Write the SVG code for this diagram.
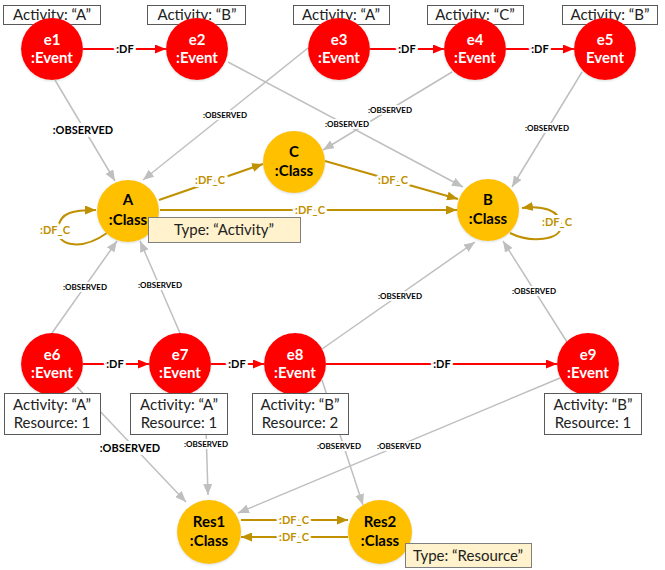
<svg xmlns="http://www.w3.org/2000/svg" width="665" height="570" viewBox="0 0 665 570">
<style>
.ev{fill:#FF0000}
.cl{fill:#FFC000}
.nt{font-family:Lato,"Liberation Sans",sans-serif;font-size:15px;font-weight:bold;text-anchor:middle}
.evt{fill:#FFFFFF}
.clt{fill:#000000}
.box{fill:#FFFFFF;stroke:#595959;stroke-width:1}
.tbox{fill:#FFF2CC;stroke:#7F7F7F;stroke-width:1}
.bt{font-family:Lato,"Liberation Sans",sans-serif;font-size:15px;fill:#222;text-anchor:middle}
.df{stroke:#FF0000;stroke-width:2;fill:none;marker-end:url(#ar)}
.ob{stroke:#BFBFBF;stroke-width:1.5;fill:none;marker-end:url(#ag)}
.dc{stroke:#BF9000;stroke-width:2;fill:none;marker-end:url(#ay)}
.lb{font-family:Lato,"Liberation Sans",sans-serif;font-weight:bold;text-anchor:middle;stroke:#FFFFFF;stroke-width:6;paint-order:stroke;stroke-linejoin:round}
.l11{font-size:11px;fill:#000}
.l8{font-size:8px;fill:#000;stroke-width:4}
.lc{font-size:11px;fill:#BF9000}
</style>
<defs>
<marker id="ar" viewBox="0 0 11 9" refX="11" refY="4.5" markerWidth="11" markerHeight="9" markerUnits="userSpaceOnUse" orient="auto"><path d="M0,0 L11,4.5 L0,9 z" fill="#FF0000"/></marker>
<marker id="ag" viewBox="0 0 11 9" refX="11" refY="4.5" markerWidth="11" markerHeight="9" markerUnits="userSpaceOnUse" orient="auto"><path d="M0,0 L11,4.5 L0,9 z" fill="#BFBFBF"/></marker>
<marker id="ay" viewBox="0 0 11 9" refX="11" refY="4.5" markerWidth="11" markerHeight="9" markerUnits="userSpaceOnUse" orient="auto"><path d="M0,0 L11,4.5 L0,9 z" fill="#BF9000"/></marker>
<filter id="sh" x="-20%" y="-20%" width="140%" height="140%"><feDropShadow dx="0" dy="1" stdDeviation="1.2" flood-color="#8aa" flood-opacity="0.35"/></filter>
</defs>

<g id="connectors">
<!-- DF -->
<path class="df" d="M83,49 L166,49"/>
<path class="df" d="M370,49 L444,49"/>
<path class="df" d="M506,49 L574,49"/>
<path class="df" d="M83,364 L149,364"/>
<path class="df" d="M211,364 L264,364"/>
<path class="df" d="M326,364 L557,364"/>
<!-- OBSERVED -->
<path class="ob" d="M55,80 L115,181"/>
<path class="ob" d="M308,48 L143,180"/>
<path class="ob" d="M228,62 L463,187"/>
<path class="ob" d="M452,72 L323,150"/>
<path class="ob" d="M582,72 L512,187"/>
<path class="ob" d="M52,333 L117,241"/>
<path class="ob" d="M180,333 L140,241"/>
<path class="ob" d="M322,349 L475,242"/>
<path class="ob" d="M567,342 L503,241"/>
<path class="ob" d="M77,387 L186,502"/>
<path class="ob" d="M205,395 L208,495"/>
<path class="ob" d="M322,380 L363,505"/>
<path class="ob" d="M560,378 L238,513"/>
<!-- DF_C -->
<path class="dc" d="M159,200 L263,164"/>
<path class="dc" d="M325,161 L458,199"/>
<path class="dc" d="M160,210 L457,210"/>
<path class="dc" d="M107,233 C80,252 55,245 58,228 C60,212 74,210 96,210"/>
<path class="dc" d="M510,233 C530,243 562,241 561,225 C560,210 542,205 522,208"/>
<path class="dc" d="M241,520 L348,520"/>
<path class="dc" d="M348,537 L241,537"/>
<!-- labels -->
<text class="lb l11" x="125" y="53">:DF</text>
<text class="lb l11" x="407" y="53">:DF</text>
<text class="lb l11" x="540" y="53">:DF</text>
<text class="lb l11" x="115" y="368">:DF</text>
<text class="lb l11" x="237" y="368">:DF</text>
<text class="lb l11" x="442" y="368">:DF</text>
<text class="lb l11" x="83" y="134">:OBSERVED</text>
<text class="lb l8" x="225" y="118">:OBSERVED</text>
<text class="lb l8" x="347" y="127">:OBSERVED</text>
<text class="lb l8" x="390" y="113">:OBSERVED</text>
<text class="lb l8" x="547" y="131">:OBSERVED</text>
<text class="lb l8" x="85" y="290">:OBSERVED</text>
<text class="lb l8" x="160" y="288">:OBSERVED</text>
<text class="lb l8" x="400" y="299">:OBSERVED</text>
<text class="lb l8" x="534" y="294">:OBSERVED</text>
<text class="lb l11" x="130" y="452">:OBSERVED</text>
<text class="lb l8" x="206" y="447">:OBSERVED</text>
<text class="lb l8" x="339" y="449">:OBSERVED</text>
<text class="lb l8" x="399" y="449">:OBSERVED</text>
<text class="lb lc" x="210" y="184">:DF_C</text>
<text class="lb lc" x="393" y="184">:DF_C</text>
<text class="lb lc" x="310" y="214">:DF_C</text>
<text class="lb lc" x="55" y="234">:DF_C</text>
<text class="lb lc" x="557" y="226">:DF_C</text>
<text class="lb lc" x="294" y="524">:DF_C</text>
<text class="lb lc" x="294" y="541">:DF_C</text>
</g>

<g id="e1"><rect class="box" x="3.5" y="5.5" width="97" height="19"/><text class="bt" x="52" y="20">Activity: “A”</text>
<circle class="ev" cx="52" cy="49" r="31" filter="url(#sh)"/><text class="nt evt" x="52" y="45">e1</text><text class="nt evt" x="52" y="63">:Event</text></g>
<g id="e2"><rect class="box" x="147.5" y="5.5" width="98" height="19"/><text class="bt" x="197" y="20">Activity: “B”</text>
<circle class="ev" cx="197" cy="49" r="31" filter="url(#sh)"/><text class="nt evt" x="197" y="45">e2</text><text class="nt evt" x="197" y="63">:Event</text></g>
<g id="e3"><rect class="box" x="293.5" y="5.5" width="96" height="19"/><text class="bt" x="341" y="20">Activity: “A”</text>
<circle class="ev" cx="339" cy="49" r="31" filter="url(#sh)"/><text class="nt evt" x="339" y="45">e3</text><text class="nt evt" x="339" y="63">:Event</text></g>
<g id="e4"><rect class="box" x="427.5" y="5.5" width="96" height="19"/><text class="bt" x="475" y="20">Activity: “C”</text>
<circle class="ev" cx="475" cy="49" r="31" filter="url(#sh)"/><text class="nt evt" x="475" y="45">e4</text><text class="nt evt" x="475" y="63">:Event</text></g>
<g id="e5"><rect class="box" x="562.5" y="5.5" width="95" height="19"/><text class="bt" x="610" y="20">Activity: “B”</text>
<circle class="ev" cx="605" cy="49" r="31" filter="url(#sh)"/><text class="nt evt" x="605" y="45">e5</text><text class="nt evt" x="605" y="63">Event</text></g>

<g id="A"><circle class="cl" cx="128" cy="211" r="31" filter="url(#sh)"/><text class="nt clt" x="128" y="205">A</text><text class="nt clt" x="128" y="225">:Class</text>
<rect class="tbox" x="148.5" y="217.5" width="152" height="25"/><text class="bt" x="224" y="235">Type: “Activity”</text></g>
<g id="C"><circle class="cl" cx="294" cy="162" r="31" filter="url(#sh)"/><text class="nt clt" x="294" y="157">C</text><text class="nt clt" x="294" y="176">:Class</text></g>
<g id="B"><circle class="cl" cx="488" cy="210" r="31" filter="url(#sh)"/><text class="nt clt" x="488" y="205">B</text><text class="nt clt" x="488" y="224">:Class</text></g>

<g id="e6"><circle class="ev" cx="52" cy="364" r="31" filter="url(#sh)"/><text class="nt evt" x="52" y="360">e6</text><text class="nt evt" x="52" y="378">:Event</text>
<rect class="box" x="4.5" y="393.5" width="96" height="41"/><text class="bt" x="52" y="410">Activity: “A”</text><text class="bt" x="52" y="428">Resource: 1</text></g>
<g id="e7"><circle class="ev" cx="180" cy="364" r="31" filter="url(#sh)"/><text class="nt evt" x="180" y="360">e7</text><text class="nt evt" x="180" y="378">:Event</text>
<rect class="box" x="130.5" y="393.5" width="97" height="41"/><text class="bt" x="179" y="410">Activity: “A”</text><text class="bt" x="179" y="428">Resource: 1</text></g>
<g id="e8"><circle class="ev" cx="295" cy="364" r="31" filter="url(#sh)"/><text class="nt evt" x="295" y="360">e8</text><text class="nt evt" x="295" y="378">:Event</text>
<rect class="box" x="252.5" y="393.5" width="96" height="41"/><text class="bt" x="300" y="410">Activity: “B”</text><text class="bt" x="300" y="428">Resource: 2</text></g>
<g id="e9"><circle class="ev" cx="588" cy="364" r="31" filter="url(#sh)"/><text class="nt evt" x="588" y="360">e9</text><text class="nt evt" x="588" y="378">:Event</text>
<rect class="box" x="544.5" y="393.5" width="97" height="41"/><text class="bt" x="593" y="410">Activity: “B”</text><text class="bt" x="593" y="428">Resource: 1</text></g>

<g id="Res1"><circle class="cl" cx="209" cy="532" r="32" filter="url(#sh)"/><text class="nt clt" x="209" y="527">Res1</text><text class="nt clt" x="209" y="546">:Class</text></g>
<g id="Res2"><circle class="cl" cx="380" cy="532" r="32" filter="url(#sh)"/><text class="nt clt" x="380" y="527">Res2</text><text class="nt clt" x="380" y="546">:Class</text>
<rect class="tbox" x="405.5" y="543.5" width="126" height="24"/><text class="bt" x="468" y="561">Type: “Resource”</text></g>
</svg>
